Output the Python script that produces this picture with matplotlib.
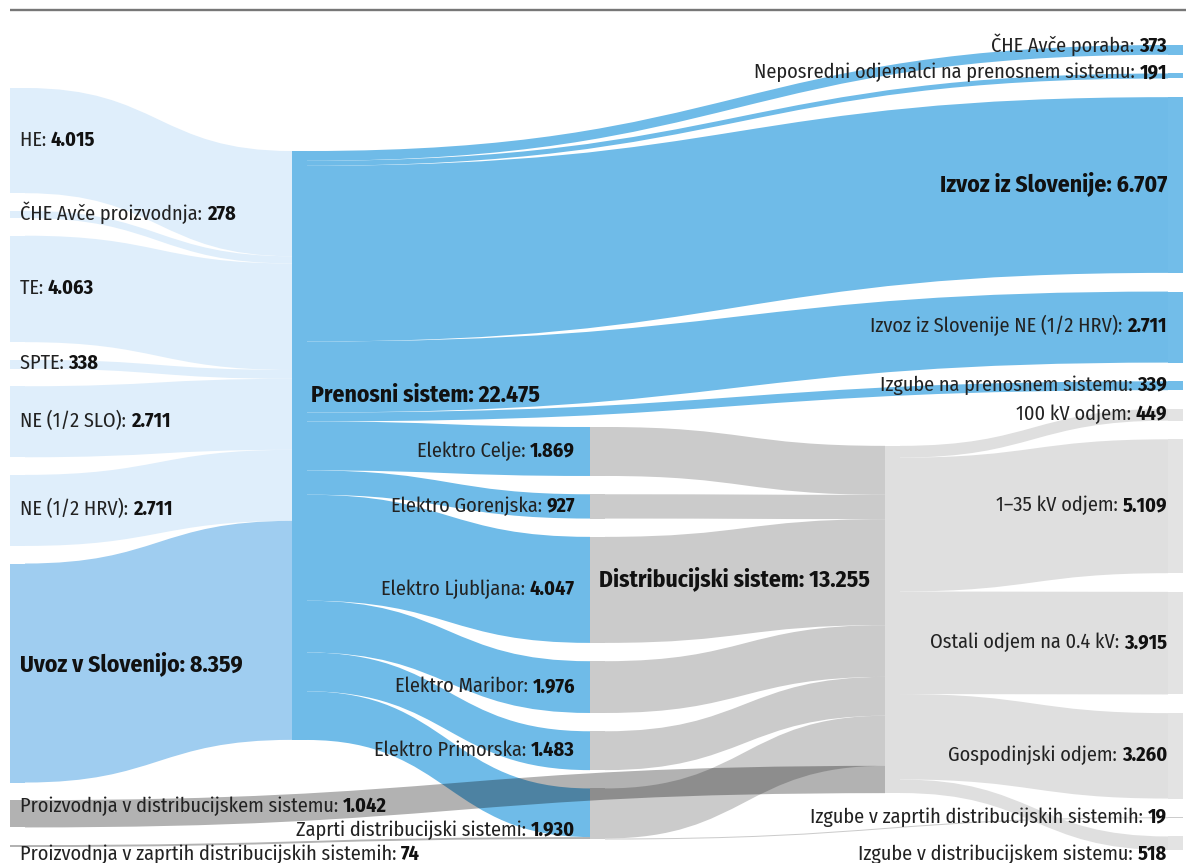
import matplotlib
matplotlib.use("Agg")
import matplotlib.pyplot as plt
from matplotlib.path import Path
from matplotlib.patches import PathPatch, Rectangle

# ── data ─────────────────────────────────────────────────────────────────────
node_names = [
    "HE", "ČHE Avče proizvodnja", "TE", "SPTE", "NE (1/2 SLO)", "NE (1/2 HRV)",
    "Uvoz v Slovenijo", "Proizvodnja v distribucijskem sistemu",
    "Proizvodnja v zaprtih distribucijskih sistemih",
    "Prenosni sistem",
    "Elektro Celje", "Elektro Gorenjska", "Elektro Ljubljana", "Elektro Maribor",
    "Elektro Primorska", "Zaprti distribucijski sistemi",
    "Distribucijski sistem",
    "ČHE Avče poraba", "Neposredni odjemalci na prenosnem sistemu",
    "Izvoz iz Slovenije", "Izvoz iz Slovenije NE (1/2 HRV)",
    "Izgube na prenosnem sistemu", "100 kV odjem", "1–35 kV odjem",
    "Ostali odjem na 0.4 kV", "Gospodinjski odjem",
    "Izgube v zaprtih distribucijskih sistemih", "Izgube v distribucijskem sistemu",
]
node_values = [4015, 278, 4063, 338, 2711, 2711, 8359, 1042, 74,
               22475,
               1869, 927, 4047, 1976, 1483, 1930,
               13255,
               373, 191, 6707, 2711, 339, 449, 5109, 3915, 3260, 19, 518]
node_column = [0] * 9 + [1] + [2] * 6 + [3] + [4] * 11

flow_source = ["HE", "ČHE Avče proizvodnja", "TE", "SPTE", "NE (1/2 SLO)", "NE (1/2 HRV)",
               "Uvoz v Slovenijo",
               "Proizvodnja v distribucijskem sistemu",
               "Proizvodnja v zaprtih distribucijskih sistemih"] + ["Prenosni sistem"] * 11 + [
               "Elektro Celje", "Elektro Gorenjska", "Elektro Ljubljana", "Elektro Maribor",
               "Elektro Primorska", "Zaprti distribucijski sistemi",
               "Zaprti distribucijski sistemi"] + ["Distribucijski sistem"] * 5
flow_target = ["Prenosni sistem"] * 7 + ["Distribucijski sistem",
               "Zaprti distribucijski sistemi",
               "ČHE Avče poraba", "Neposredni odjemalci na prenosnem sistemu",
               "Izvoz iz Slovenije", "Izvoz iz Slovenije NE (1/2 HRV)",
               "Izgube na prenosnem sistemu",
               "Elektro Celje", "Elektro Gorenjska", "Elektro Ljubljana", "Elektro Maribor",
               "Elektro Primorska", "Zaprti distribucijski sistemi"] + [
               "Distribucijski sistem"] * 6 + [
               "Izgube v zaprtih distribucijskih sistemih",
               "100 kV odjem", "1–35 kV odjem", "Ostali odjem na 0.4 kV",
               "Gospodinjski odjem", "Izgube v distribucijskem sistemu"]
flow_values = [4015, 278, 4063, 338, 2711, 2711, 8359, 1042, 74,
               373, 191, 6707, 2711, 339, 1869, 927, 4047, 1976, 1483, 1856,
               1869, 927, 4047, 1976, 1483, 1911, 19,
               449, 5109, 3915, 3260, 518]

# ── style / layout ───────────────────────────────────────────────────────────
W, H = 1186, 863
K = 0.0262                      # px per GWh
NODE_W = 15
col_x = [10, 292, 590, 885, 1168]
col_span = [(88, 847), (151, 740), (427, 839), (446, 793), (45, 850)]

LIGHT = "#dfeefb"
UVOZ = "#9fcdf0"
BLUE = "#72bde9"
GRAY = "#cccccc"
LGRAY = "#e3e3e3"
node_color = ([LIGHT] * 6 + [UVOZ, (0, 0, 0, 0.3), (0, 0, 0, 0.3)] + ["#6fbbe8"]
              + ["#cbcbcb"] * 6 + ["#dfdfdf"] + [BLUE] * 5 + [LGRAY] * 4
              + [GRAY, LGRAY])
bold_nodes = {"Uvoz v Slovenijo", "Prenosni sistem", "Distribucijski sistem",
              "Izvoz iz Slovenije"}
label_dy = {"Uvoz v Slovenijo": -10, "Proizvodnja v distribucijskem sistemu": -9,
            "Proizvodnja v zaprtih distribucijskih sistemih": 7,
            "Prenosni sistem": -52, "Distribucijski sistem": -42,
            "Zaprti distribucijski sistemi": 15, "Izgube v distribucijskem sistemu": 10,
            "ČHE Avče poraba": -5, "Neposredni odjemalci na prenosnem sistemu": -5}

FONT = ["Fira Sans Condensed", "DejaVu Sans"]
FS = 14.6
FS_BIG = 17.0

# ── layout computation ──────────────────────────────────────────────────────
idx = {n: i for i, n in enumerate(node_names)}
n_nodes = len(node_names)
in_sum = [0] * n_nodes
out_sum = [0] * n_nodes
for s, t, v in zip(flow_source, flow_target, flow_values):
    out_sum[idx[s]] += v
    in_sum[idx[t]] += v
height = [max(in_sum[i], out_sum[i]) * K for i in range(n_nodes)]

y0 = [0.0] * n_nodes
for c in range(5):
    members = [i for i in range(n_nodes) if node_column[i] == c]
    top, bot = col_span[c]
    total = sum(height[i] for i in members)
    if len(members) == 1:
        y0[members[0]] = (top + bot) / 2 - total / 2
        continue
    pad = (bot - top - total) / (len(members) - 1)
    y = top
    for i in members:
        y0[i] = y
        y += height[i] + pad

flows = list(range(len(flow_values)))
src_y = {}
tgt_y = {}
for i in range(n_nodes):
    outs = sorted([f for f in flows if idx[flow_source[f]] == i], key=lambda f: y0[idx[flow_target[f]]])
    y = y0[i]
    for f in outs:
        src_y[f] = y
        y += flow_values[f] * K
    ins = sorted([f for f in flows if idx[flow_target[f]] == i], key=lambda f: y0[idx[flow_source[f]]])
    y = y0[i]
    for f in ins:
        tgt_y[f] = y
        y += flow_values[f] * K

# ── drawing ──────────────────────────────────────────────────────────────────
fig = plt.figure(figsize=(W / 100, H / 100), dpi=100)
ax = fig.add_axes([0, 0, 1, 1])
ax.set_xlim(0, W)
ax.set_ylim(H, 0)
ax.axis("off")

ax.plot([10, W], [10, 10], color="#777777", lw=1.7, solid_capstyle="butt")

for f in flows:
    s, t = idx[flow_source[f]], idx[flow_target[f]]
    xs = col_x[node_column[s]] + NODE_W
    xt = col_x[node_column[t]]
    w = max(flow_values[f] * K, 1.0)
    a0, b0 = src_y[f], tgt_y[f]
    xm = (xs + xt) / 2
    verts = [(xs, a0), (xm, a0), (xm, b0), (xt, b0),
             (xt, b0 + w), (xm, b0 + w), (xm, a0 + w), (xs, a0 + w), (xs, a0)]
    codes = [Path.MOVETO, Path.CURVE4, Path.CURVE4, Path.CURVE4,
             Path.LINETO, Path.CURVE4, Path.CURVE4, Path.CURVE4, Path.CLOSEPOLY]
    col = node_color[s]
    alpha_link = isinstance(col, tuple)
    ax.add_patch(PathPatch(Path(verts, codes), facecolor=col, edgecolor="none",
                           zorder=3 if alpha_link else 2))

for i in range(n_nodes):
    ax.add_patch(Rectangle((col_x[node_column[i]], y0[i]), NODE_W, max(height[i], 1.0),
                           facecolor=node_color[i], edgecolor="none", zorder=2))

renderer = fig.canvas.get_renderer()


def fmt(v):
    return f"{v:,}".replace(",", ".")


for i, name in enumerate(node_names):
    c = node_column[i]
    yc = y0[i] + height[i] / 2 + label_dy.get(name, -2)
    if c == 0:
        x, ha = col_x[c] + 10, "left"
    elif c == 1:
        x, ha = col_x[c] + NODE_W + 4, "left"
    elif c in (2, 3):
        x, ha = col_x[c] - 15, "right"
    else:
        x, ha = col_x[c] - 1, "right"
    if name in bold_nodes:
        yb = yc + FS_BIG * 100 / 72 * 0.35
        ax.text(x, yb, f"{name}: {fmt(node_values[i])}", ha=ha, va="baseline",
                fontsize=FS_BIG, fontweight="bold", family=FONT, color="#111111", zorder=5)
        continue
    yb = yc + FS * 100 / 72 * 0.35
    if ha == "left":
        t1 = ax.text(x, yb, f"{name}: ", ha="left", va="baseline", fontsize=FS,
                     fontweight="normal", family=FONT, color="#222222", zorder=5)
        w = t1.get_window_extent(renderer).width
        ax.text(x + w, yb, fmt(node_values[i]), ha="left", va="baseline", fontsize=FS,
                fontweight="bold", family=FONT, color="#111111", zorder=5)
    else:
        t2 = ax.text(x, yb, fmt(node_values[i]), ha="right", va="baseline", fontsize=FS,
                     fontweight="bold", family=FONT, color="#111111", zorder=5)
        w = t2.get_window_extent(renderer).width
        ax.text(x - w, yb, f"{name}: ", ha="right", va="baseline", fontsize=FS,
                fontweight="normal", family=FONT, color="#222222", zorder=5)

fig.savefig("out.png", dpi=100)
